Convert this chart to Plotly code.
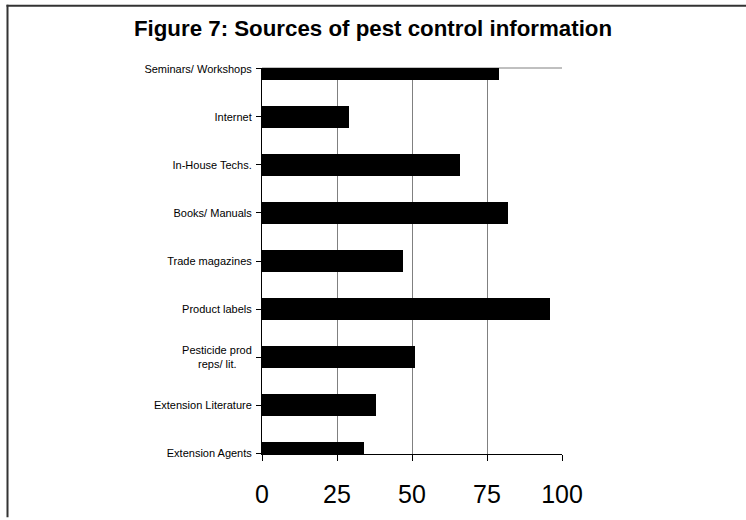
import plotly.graph_objects as go

# Survey responses: share of respondents using each information source (%)
sources = [
    "Seminars/ Workshops",
    "Internet",
    "In-House Techs.",
    "Books/ Manuals",
    "Trade magazines",
    "Product labels",
    "Pesticide prod<br>reps/ lit.&nbsp;&nbsp;&nbsp;&nbsp;&nbsp;",
    "Extension Literature",
    "Extension Agents",
]
percent = [79, 29, 66, 82, 47, 96, 51, 38, 34]

x_ticks = [0, 25, 50, 75, 100]

W, H = 746, 520
L, R, T, B = 262, 184, 68, 62
plot_w = W - L - R
plot_h = H - T - B

fig = go.Figure(
    go.Bar(
        x=percent,
        y=sources,
        orientation="h",
        width=0.46,
        marker=dict(color="#000000", line=dict(width=0)),
        hoverinfo="x+y",
    )
)


def px_to_paper_x(px):
    return (px - L) / plot_w


def px_to_paper_y(py):
    return (H - B - py) / plot_h


# outer frame: left and top edges (the rest runs past the page)
frame = dict(color="#333333", width=2)
fig.add_shape(
    type="line", xref="paper", yref="paper",
    x0=px_to_paper_x(7.5), x1=px_to_paper_x(7.5),
    y0=px_to_paper_y(H + 2), y1=px_to_paper_y(4),
    line=frame, layer="below",
)
fig.add_shape(
    type="line", xref="paper", yref="paper",
    x0=px_to_paper_x(6.5), x1=px_to_paper_x(W + 2),
    y0=px_to_paper_y(5), y1=px_to_paper_y(5),
    line=frame, layer="below",
)
# grey top edge of the plotting area
fig.add_shape(
    type="line", xref="paper", yref="paper",
    x0=0, x1=1, y0=1, y1=1,
    line=dict(color="#808080", width=1), layer="below",
)

fig.update_layout(
    width=W, height=H,
    margin=dict(l=L, r=R, t=T, b=B, pad=0),
    paper_bgcolor="white",
    plot_bgcolor="white",
    showlegend=False,
    font=dict(family="Liberation Sans, Arial, sans-serif", color="#000000"),
    title=dict(
        text="<b>Figure 7: Sources of pest control information</b>",
        x=0.5, xref="container", xanchor="center",
        y=1 - 28 / H, yref="container", yanchor="middle",
        font=dict(size=22.3, color="#000000"),
    ),
)

fig.update_xaxes(
    range=[0, 100],
    tickvals=x_ticks,
    ticktext=[str(v) for v in x_ticks],
    tickfont=dict(size=25, color="#000000"),
    showgrid=True, gridcolor="#808080", gridwidth=1,
    showline=True, linecolor="#000000", linewidth=1,
    ticks="outside", ticklen=6, tickcolor="#000000", tickwidth=1,
    zeroline=False,
    ticklabelstandoff=12,
    fixedrange=True,
)

fig.update_yaxes(
    type="category",
    categoryorder="array", categoryarray=sources,
    range=[len(sources) - 1 + 0.02, -0.02],
    tickfont=dict(size=11, color="#000000"),
    showgrid=False,
    showline=True, linecolor="#000000", linewidth=1,
    ticks="outside", ticklen=5, tickcolor="#000000", tickwidth=1,
    zeroline=False,
    ticklabelstandoff=2,
    fixedrange=True,
)

fig.write_html("out.html")
